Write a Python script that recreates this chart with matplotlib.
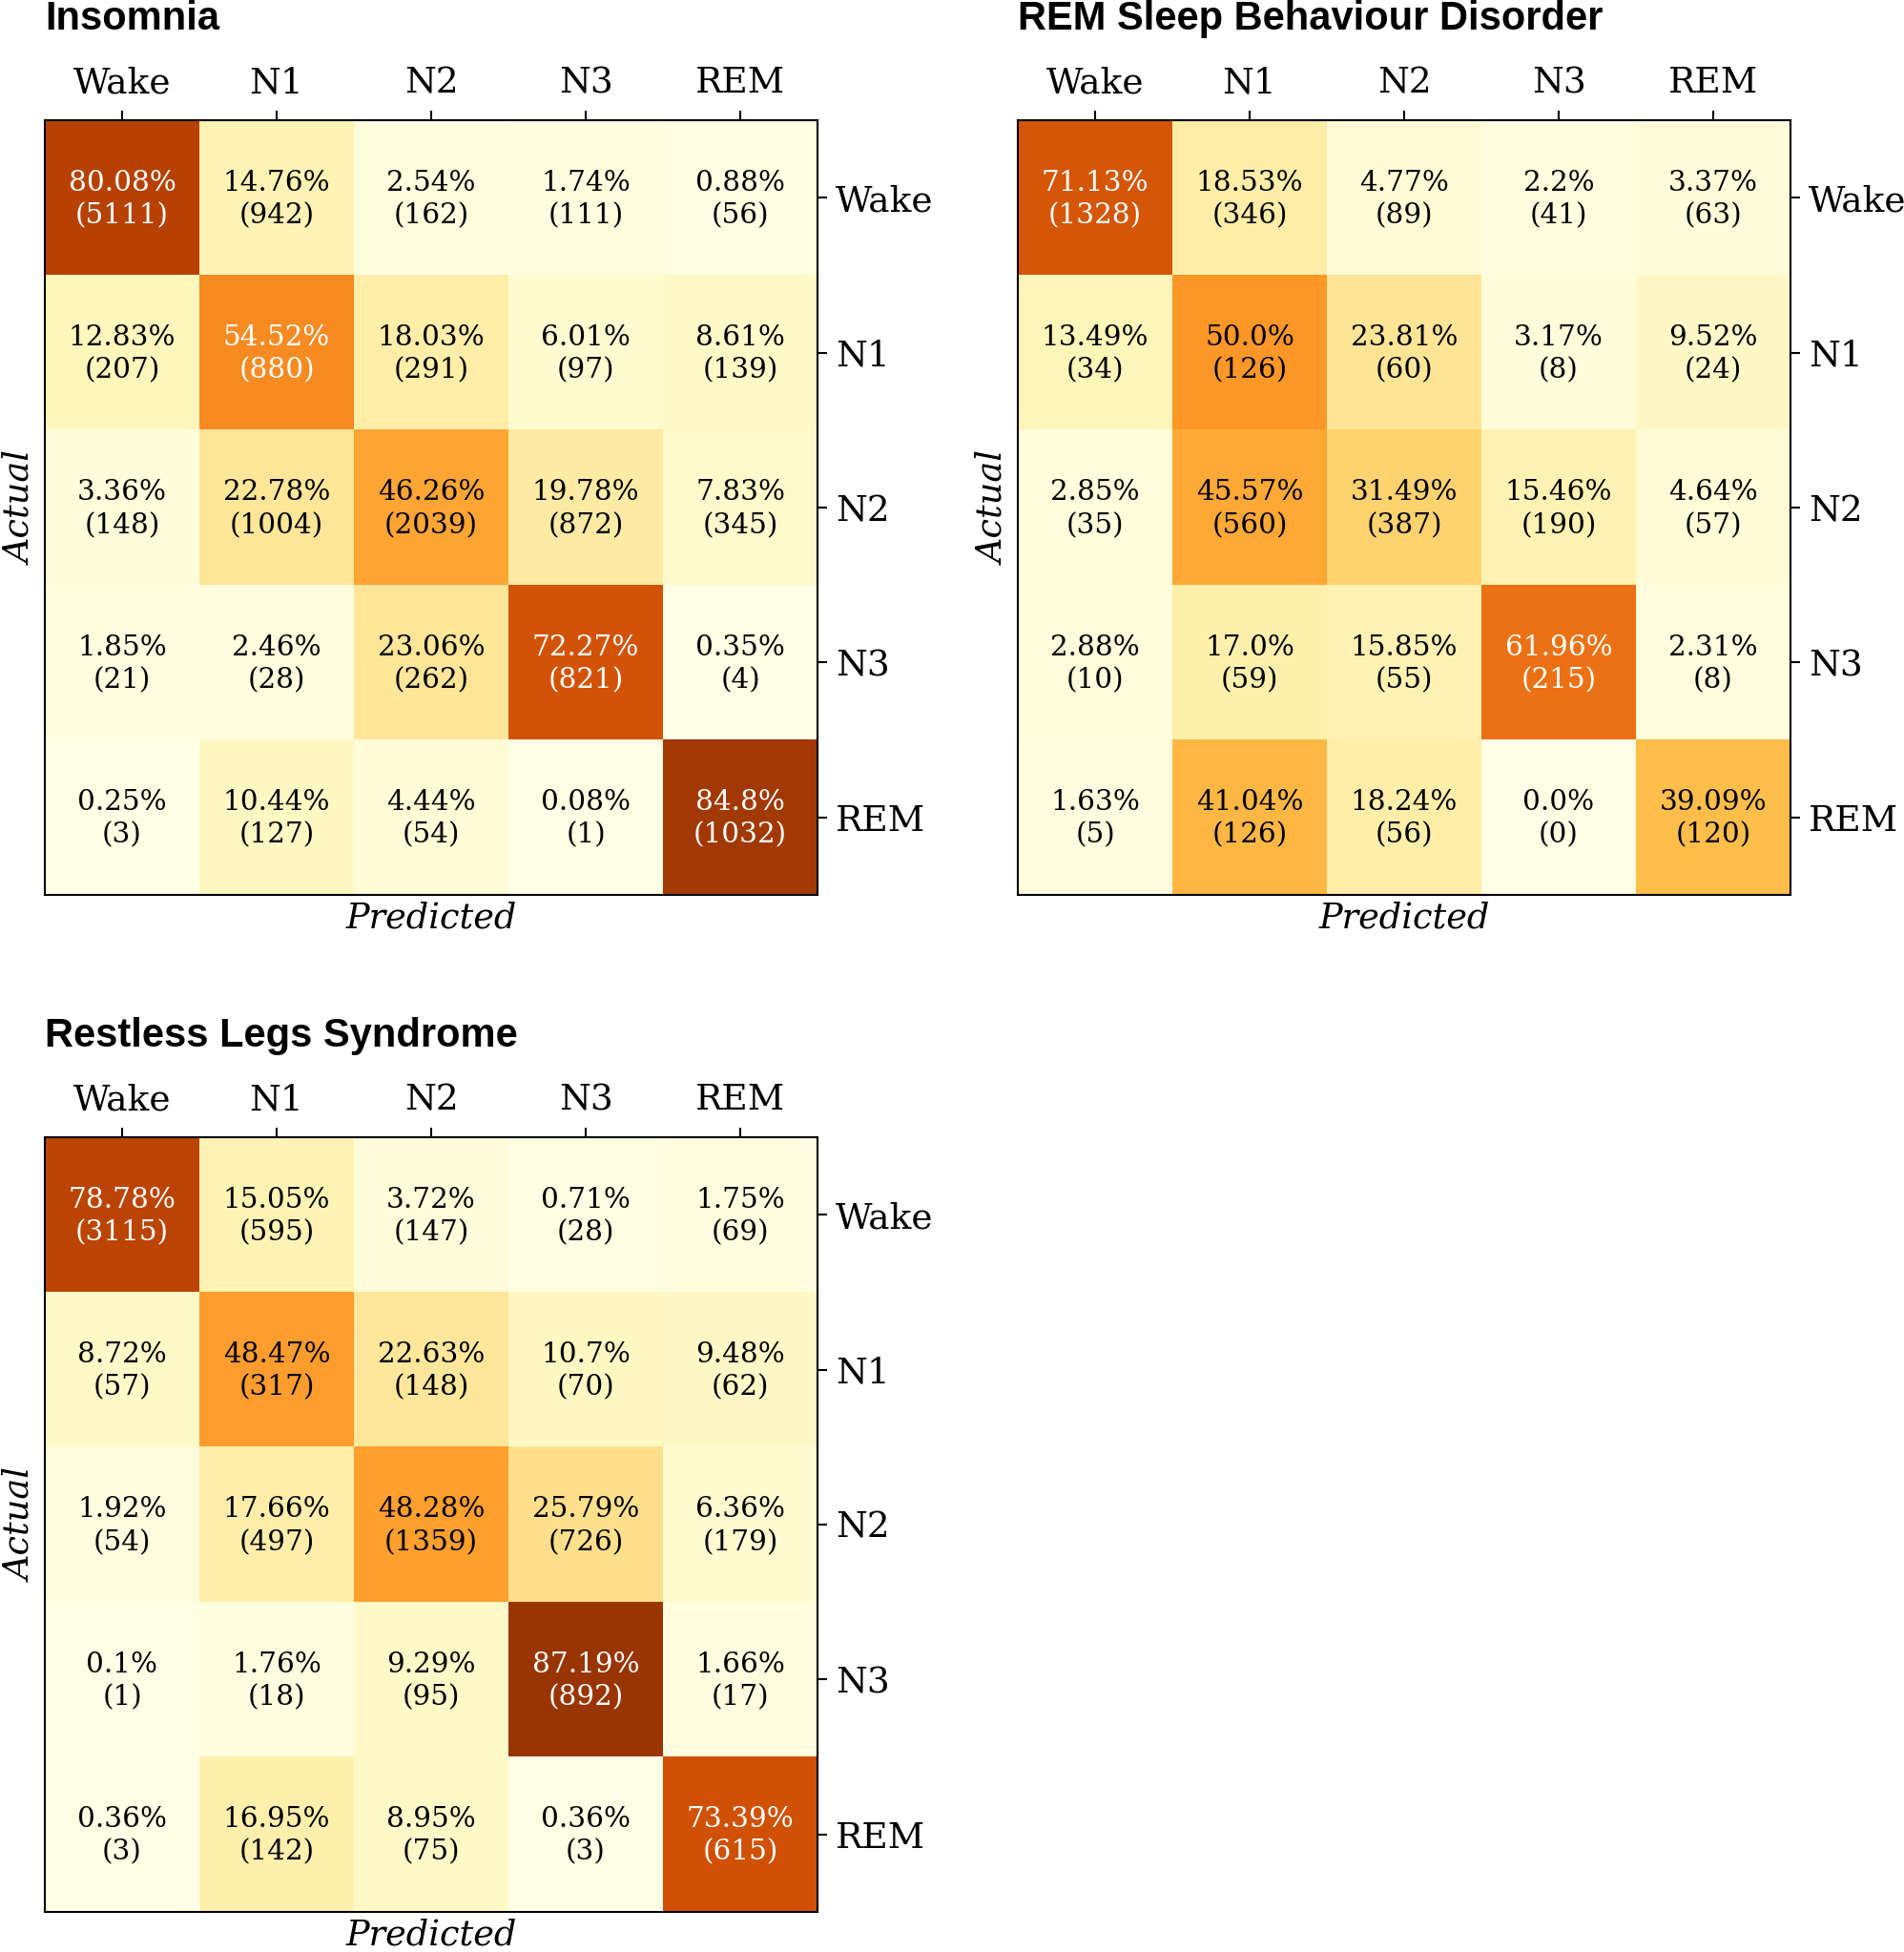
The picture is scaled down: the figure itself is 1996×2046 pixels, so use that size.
import numpy as np
import matplotlib
matplotlib.use("Agg")
import matplotlib.pyplot as plt

stages = ["Wake", "N1", "N2", "N3", "REM"]

titles = ["Insomnia", "REM Sleep Behaviour Disorder", "Restless Legs Syndrome"]

# row-normalised percentages (as printed in the cells)
insomnia_pct = [[80.08, 14.76, 2.54, 1.74, 0.88],
                [12.83, 54.52, 18.03, 6.01, 8.61],
                [3.36, 22.78, 46.26, 19.78, 7.83],
                [1.85, 2.46, 23.06, 72.27, 0.35],
                [0.25, 10.44, 4.44, 0.08, 84.8]]
insomnia_n = [[5111, 942, 162, 111, 56],
              [207, 880, 291, 97, 139],
              [148, 1004, 2039, 872, 345],
              [21, 28, 262, 821, 4],
              [3, 127, 54, 1, 1032]]

rbd_pct = [[71.13, 18.53, 4.77, 2.2, 3.37],
           [13.49, 50.0, 23.81, 3.17, 9.52],
           [2.85, 45.57, 31.49, 15.46, 4.64],
           [2.88, 17.0, 15.85, 61.96, 2.31],
           [1.63, 41.04, 18.24, 0.0, 39.09]]
rbd_n = [[1328, 346, 89, 41, 63],
         [34, 126, 60, 8, 24],
         [35, 560, 387, 190, 57],
         [10, 59, 55, 215, 8],
         [5, 126, 56, 0, 120]]

rls_pct = [[78.78, 15.05, 3.72, 0.71, 1.75],
           [8.72, 48.47, 22.63, 10.7, 9.48],
           [1.92, 17.66, 48.28, 25.79, 6.36],
           [0.1, 1.76, 9.29, 87.19, 1.66],
           [0.36, 16.95, 8.95, 0.36, 73.39]]
rls_n = [[3115, 595, 147, 28, 69],
         [57, 317, 148, 70, 62],
         [54, 497, 1359, 726, 179],
         [1, 18, 95, 892, 17],
         [3, 142, 75, 3, 615]]

all_pct = [insomnia_pct, rbd_pct, rls_pct]
all_n = [insomnia_n, rbd_n, rls_n]

plt.rcParams['font.family'] = 'DejaVu Serif'

W, H = 1996, 2046
fig = plt.figure(figsize=(W / 300, H / 300), dpi=300)

# axes boxes in pixels: left, top, width, height
boxes = [(47, 126, 810, 812), (1067, 126, 810, 812), (47, 1192, 810, 812)]

for k in range(3):
    l, t, w, h = boxes[k]
    ax = fig.add_axes([l / W, (H - t - h) / H, w / W, h / H])
    pct = np.array(all_pct[k])
    cnt = np.array(all_n[k])
    ax.imshow(pct, cmap='YlOrBr', vmin=0, vmax=100, aspect='auto',
              interpolation='nearest')
    for i in range(5):
        for j in range(5):
            col = 'white' if pct[i, j] > 50 else 'black'
            ax.text(j, i + 0.01, f"{pct[i, j]}%\n({cnt[i, j]})", ha='center', va='center',
                    fontsize=7.1, color=col, linespacing=1.3)
    ax.set_xticks(range(5))
    ax.set_yticks(range(5))
    ax.set_xticklabels(stages)
    ax.set_yticklabels(stages)
    ax.xaxis.tick_top()
    ax.yaxis.tick_right()
    ax.tick_params(labelsize=9, length=2.4, width=0.5)
    ax.tick_params(axis='x', pad=2.6)
    ax.tick_params(axis='y', pad=2.2)
    for s in ax.spines.values():
        s.set_linewidth(0.5)
    ax.set_xlabel("Predicted", fontsize=8.8, style='italic', labelpad=1.5)
    ax.set_ylabel("Actual", fontsize=8.8, style='italic', labelpad=1.5)
    ax.text(0, 1.117, titles[k], transform=ax.transAxes, fontsize=10,
            fontweight='bold', family='Liberation Sans', ha='left', va='baseline')

fig.savefig("out.png", dpi=300)
